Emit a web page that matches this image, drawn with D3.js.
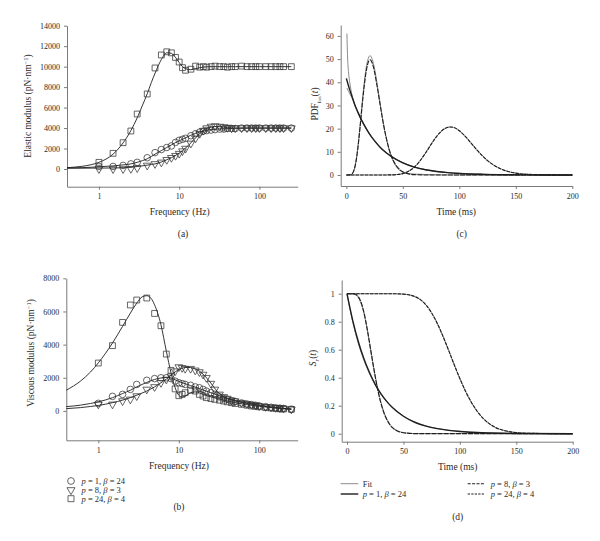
<!DOCTYPE html>
<html><head><meta charset="utf-8">
<script src="https://cdn.jsdelivr.net/npm/d3@7"></script>
<style>
body{margin:0;background:#fff;}
svg text{font-family:"Liberation Serif","DejaVu Serif",serif;fill:#2a2a2a;}
</style></head><body>
<svg id="c" width="600" height="541"></svg>
<script>
// ---------- Data: panels (a) and (b), measured points ----------
const freq = [1,1.5,2,2.5,3,4,5,6,7,8,9,10,11,12,14,16,18,20,22,25,28,32,36,40,45,50,60,70,80,90,100,120,140,160,180,200,250];
const elasticSq = [650,1530,2570,3710,5370,7330,9870,11140,11450,11350,10900,10450,9900,9650,9750,10050,9950,10000,9950,10000,10050,10000,10000,9950,10000,10000,10050,10000,10000,10000,10000,10000,10000,10000,10000,10000,10000];
const elasticCi = [250,250,350,500,650,1100,1600,1900,2100,2250,2600,2800,2900,3000,3250,3450,3600,3700,3750,3800,3850,3900,3900,3950,3950,3950,4000,4000,4000,4000,4000,4000,4000,4000,4000,4000,4000];
const elasticTr = [0,0,0,20,100,350,500,650,900,1100,1300,1500,1750,2000,2500,3000,3450,3750,4000,4150,4200,4150,4100,4050,4000,4000,4000,4000,4000,4000,4000,4000,4000,4000,4000,4000,4000];
const viscousSq = [2890,3940,5340,6390,6690,6810,5880,5140,3430,2450,1330,920,1000,1100,1250,1200,1000,900,800,750,700,650,600,550,500,450,400,350,300,280,250,200,180,150,130,120,100];
const viscousCi = [460,880,1000,1300,1600,1850,1950,2000,2000,1950,1800,1700,1650,1600,1550,1450,1400,1300,1200,1100,1000,850,750,700,620,560,480,420,380,340,300,260,220,190,170,150,100];
const viscousTr = [400,400,600,700,900,1300,1450,1700,1900,2100,2400,2650,2600,2550,2550,2450,2350,2200,2000,1650,1300,1000,850,750,650,600,500,430,380,340,300,250,220,190,170,150,100];

// ---------- Fit curves (a), (b) ----------
const fitFreq = [0.4,0.6,0.8,1,1.5,2,2.5,3,3.5,4,4.5,5,6,7,8,9,10,11,12,14,16,18,20,25,30,40,50,70,100,150,250];
const elasticFitSq = [130,250,420,650,1450,2550,3750,5000,6250,7350,8450,9350,10700,11350,11300,10900,10400,10000,9800,9700,9800,9900,9950,10000,10000,10000,10000,10000,10000,10000,10000];
const elasticFitCi = [100,130,170,220,300,400,500,650,820,1000,1220,1450,1800,2100,2350,2580,2750,2900,3050,3300,3480,3600,3700,3850,3900,3950,3980,4000,4000,4000,4000];
const elasticFitTr = [80,80,85,90,100,120,170,240,310,380,440,500,680,900,1100,1330,1550,1800,2050,2550,3050,3450,3750,4100,4150,4050,4000,4000,4000,4000,4000];
const viscousFitSq = [1250,1800,2350,2900,4100,5100,5900,6500,6880,6950,6800,6400,5200,3600,2300,1400,950,850,900,1100,1150,1100,1000,850,750,600,500,380,280,180,100];
const viscousFitCi = [260,350,450,550,800,1050,1250,1450,1600,1720,1820,1900,1990,2020,1980,1880,1780,1700,1640,1530,1440,1350,1270,1100,960,760,630,480,350,230,120];
const viscousFitTr = [140,200,270,330,500,650,800,950,1080,1200,1330,1450,1700,1920,2150,2350,2500,2580,2620,2620,2530,2400,2220,1680,1180,760,600,450,320,210,110];

// ---------- Panel (c): PDF curves ----------
const tExp = [0,1,2,3,5,7.5,10,12.5,15,20,25,30,35,40,50,60,70,80,90,100,120,140,160,200];
const pdfExp = [41.7,40,38.3,36.7,33.8,30.3,27.4,24.6,22.3,18.1,14.7,11.9,9.7,7.9,5.2,3.4,2.25,1.5,1.0,0.65,0.28,0.12,0.05,0];
const tFitExpA = [0.5,1,1.5,2,3,4,5,7.5,10,15,20,30,40,50,60,80,100,150,200];
const pdfFitExpA = [61,52,47,44,40,37,34.5,30,27,22,18,12,8,5.3,3.5,1.5,0.7,0.1,0];
const tFitExpB = [0.5,2,5,7.5,10,15,20,30,40,50,60,80,100,150,200];
const pdfFitExpB = [37.5,36,33.3,30.2,27.3,22.3,18.2,12,8,5.3,3.5,1.5,0.7,0.1,0];
const tG8 = [0,3,5,7,8,9,10,11,12,13,14,15,16,17,18,19,20,21,22,23,24,25,27,30,33,35,38,40,43,45,48,50,55,60,70,200];
const pdfG8 = [0,0.02,0.45,2.4,4.4,7.2,10.8,15.1,19.9,24.9,30.0,34.8,39.2,42.9,45.9,48.0,49.3,49.7,49.3,48.2,46.5,44.4,39.0,30.0,21.5,16.7,10.9,8.0,4.9,3.5,2.0,1.4,0.5,0.17,0.01,0];
const tFitG8 = [3,5,7,9,11,13,15,17,19,20,21,22,23,25,27,30,33,35,38,40,43,45,48,50,53,55,60,70,100,200];
const pdfFitG8 = [0,0.4,2.4,7.5,15.6,25.8,36,44.4,49.7,51,51.5,51,49.8,45.8,40,30.6,21.6,16.6,10.6,7.7,4.5,3.1,1.7,1.1,0.7,0.6,0.4,0.2,0,0];
const tG24 = [0,30,40,45,50,55,60,65,70,75,80,85,90,92,95,100,105,110,115,120,125,130,140,150,160,170,180,200];
const pdfG24 = [0,0,0.04,0.2,0.6,1.6,3.3,6.0,9.4,13.2,16.7,19.3,20.6,20.7,20.5,19.1,16.8,14.0,11.1,8.5,6.2,4.4,2.0,0.8,0.3,0.1,0.03,0];

// ---------- Panel (d): survival curves ----------
const tSExp = [0,5,10,15,20,25,30,35,40,50,60,70,80,90,100,120,150,200];
const sExp = [1,0.812,0.659,0.535,0.435,0.353,0.287,0.233,0.189,0.125,0.082,0.054,0.036,0.024,0.016,0.007,0.002,0];
const sFitExp = [1,0.80,0.645,0.525,0.428,0.348,0.284,0.232,0.19,0.126,0.083,0.055,0.037,0.025,0.017,0.008,0.002,0];
const tSG8 = [0,5,8,10,12,15,18,20,22,25,28,30,33,35,38,40,45,50,60,200];
const sG8 = [1,1,0.994,0.979,0.949,0.867,0.744,0.648,0.549,0.408,0.286,0.22,0.143,0.105,0.064,0.045,0.018,0.007,0.001,0];
const sFitG8 = [1,0.998,0.99,0.972,0.94,0.86,0.74,0.645,0.55,0.412,0.292,0.226,0.148,0.11,0.068,0.048,0.02,0.008,0.001,0];
const tSG24 = [0,40,50,60,65,70,75,80,85,90,95,100,105,110,115,120,130,140,150,160,200];
const sG24 = [1,1,0.997,0.98,0.958,0.92,0.863,0.788,0.697,0.597,0.493,0.394,0.304,0.227,0.164,0.115,0.051,0.021,0.008,0.003,0];

// ---------- Ticks ----------
const freqTicks = [1,10,100];
const elasticTicks = [0,2000,4000,6000,8000,10000,12000,14000];
const viscousTicks = [0,2000,4000,6000,8000];
const timeTicks = [0,50,100,150,200];
const pdfTicks = [0,10,20,30,40,50,60];
const survTicks = [0,0.2,0.4,0.6,0.8,1];

const svg = d3.select("#c");
const AX = "#7a7a7a", INK = "#2a2a2a", CURVE = "#1e1e1e";

const xa = d3.scaleLog().domain([0.4,300]).range([67,297.7]);
const ya = d3.scaleLinear().domain([-1730,14000]).range([186.7,25.7]);
const xb = d3.scaleLog().domain([0.4,300]).range([66.3,297.7]);
const yb = d3.scaleLinear().domain([-1770,8000]).range([440.3,278.3]);
const xc = d3.scaleLinear().domain([-5,200]).range([340.7,572.3]);
const yc = d3.scaleLinear().domain([-4.75,64.7]).range([186,25]);
const xd = d3.scaleLinear().domain([-4.7,200]).range([341.7,572.7]);
const yd = d3.scaleLinear().domain([-0.057,1.098]).range([441.7,280]);

function axes(x, y, xt, yt, xf, yf) {
  const xl = x.range()[0], yB = y.range()[0];
  const gx = svg.append("g").attr("transform",`translate(0,${yB})`)
    .call(d3.axisBottom(x).tickValues(xt).tickFormat(xf).tickSize(3).tickSizeOuter(0).tickPadding(4));
  const gy = svg.append("g").attr("transform",`translate(${xl},0)`)
    .call(d3.axisLeft(y).tickValues(yt).tickFormat(yf).tickSize(3).tickSizeOuter(0).tickPadding(4));
  [gx,gy].forEach(g=>{
    g.attr("font-family",'"Liberation Serif","DejaVu Serif",serif');
    g.select(".domain").attr("stroke",AX).attr("stroke-width",1);
    g.selectAll(".tick line").attr("stroke",AX);
    g.selectAll(".tick text").attr("font-size",8).attr("fill",INK);
  });
}
const fmtInt = d3.format("d");
axes(xa, ya, freqTicks, elasticTicks, fmtInt, fmtInt);
axes(xb, yb, freqTicks, viscousTicks, fmtInt, fmtInt);
axes(xc, yc, timeTicks, pdfTicks, fmtInt, fmtInt);
axes(xd, yd, timeTicks, survTicks, fmtInt, d => (d===0||d===1) ? String(d) : d.toFixed(1));

function line(x, y, xs, ys, style) {
  const pts = xs.map((v,i)=>[v, ys[i]]);
  svg.append("path").datum(pts)
    .attr("d", d3.line().x(d=>x(d[0])).y(d=>y(d[1])).curve(d3.curveMonotoneX))
    .attr("fill","none")
    .attr("stroke", style.c || CURVE)
    .attr("stroke-width", style.w || 1)
    .attr("stroke-dasharray", style.dash || null);
}
function markers(x, y, xs, ys, type) {
  const sym = {
    circle: d3.symbol().type(d3.symbolCircle).size(34),
    square: d3.symbol().type(d3.symbolSquare).size(34),
    triangle: d3.symbol().type(d3.symbolTriangle).size(26)
  }[type];
  svg.append("g").selectAll("path").data(xs.map((v,i)=>[v,ys[i]])).join("path")
    .attr("d", sym)
    .attr("transform", d=>`translate(${x(d[0])},${y(d[1])})${type==="triangle"?" rotate(180)":""}`)
    .attr("fill","none").attr("stroke","#333").attr("stroke-width",0.75);
}

// Panel (a)
line(xa, ya, fitFreq, elasticFitSq, {w:0.9});
line(xa, ya, fitFreq, elasticFitCi, {w:0.9});
line(xa, ya, fitFreq, elasticFitTr, {w:0.9});
markers(xa, ya, freq, elasticSq, "square");
markers(xa, ya, freq, elasticCi, "circle");
markers(xa, ya, freq, elasticTr, "triangle");

// Panel (b)
line(xb, yb, fitFreq, viscousFitSq, {w:0.9});
line(xb, yb, fitFreq, viscousFitCi, {w:0.9});
line(xb, yb, fitFreq, viscousFitTr, {w:0.9});
markers(xb, yb, freq, viscousSq, "square");
markers(xb, yb, freq, viscousCi, "circle");
markers(xb, yb, freq, viscousTr, "triangle");

// Panel (c)
const FIT = {c:"#8c8c8c", w:1};
const S1 = {w:1.4, c:CURVE};
const S8 = {w:1.15, dash:"5,1.1", c:CURVE};
const S24 = {w:1.15, dash:"3.5,1.1", c:CURVE};
line(xc, yc, tFitExpA, pdfFitExpA, FIT);
line(xc, yc, tFitExpB, pdfFitExpB, FIT);
line(xc, yc, tFitG8, pdfFitG8, FIT);
line(xc, yc, tG24, pdfG24, FIT);
line(xc, yc, tExp, pdfExp, S1);
line(xc, yc, tG8, pdfG8, S8);
line(xc, yc, tG24, pdfG24, S24);

// Panel (d)
line(xd, yd, tSExp, sFitExp, FIT);
line(xd, yd, tSG8, sFitG8, FIT);
line(xd, yd, tSG24, sG24, FIT);
line(xd, yd, tSExp, sExp, S1);
line(xd, yd, tSG8, sG8, S8);
line(xd, yd, tSG24, sG24, S24);

// ---------- Text ----------
function txt(x, y, s, size, anchor) {
  return svg.append("text").attr("x",x).attr("y",y).attr("font-size",size)
    .attr("text-anchor",anchor||"middle").text(s);
}
txt(179.7, 215, "Frequency (Hz)", 9.5);
txt(179, 469, "Frequency (Hz)", 9.5);
txt(456.3, 215, "Time (ms)", 9.5);
txt(457.7, 469.5, "Time (ms)", 9.5);
txt(183, 236.5, "(a)", 9.5);
txt(179, 510, "(b)", 9.5);
txt(461.7, 236.5, "(c)", 9.5);
txt(457.7, 520, "(d)", 9.5);

function ylab(x, y, parts, size) {
  const t = svg.append("text").attr("transform",`translate(${x},${y}) rotate(-90)`)
    .attr("text-anchor","middle").attr("font-size",size);
  parts.forEach(p=>{
    const s = t.append("tspan").text(p.t);
    if (p.i) s.attr("font-style","italic");
    if (p.dy) s.attr("dy",p.dy);
    if (p.fs) s.attr("font-size",p.fs);
  });
}
ylab(31, 106, [{t:"Elastic modulus (pN·nm"},{t:"−1",dy:-3.5,fs:6.5},{t:")",dy:3.5}], 9.5);
ylab(34, 353, [{t:"Viscous modulus (pN·nm"},{t:"−1",dy:-3.5,fs:6.5},{t:")",dy:3.5}], 9.5);
ylab(318, 104, [{t:"PDF"},{t:"t",i:true,dy:2.5,fs:6.5},{t:"on",dy:0.8,fs:5},{t:"(",dy:-3.3},{t:"t",i:true},{t:")"}], 9.5);
ylab(316, 358, [{t:"S",i:true},{t:"r",i:true,dy:2.5,fs:6.5},{t:"(",dy:-2.5},{t:"t",i:true},{t:")"}], 9.5);

// Legend (b)
function legText(x, y, pv, bv) {
  const t = svg.append("text").attr("x",x).attr("y",y).attr("font-size",8.5);
  t.append("tspan").attr("font-style","italic").text("p");
  t.append("tspan").text(` = ${pv}, `);
  t.append("tspan").attr("font-style","italic").text("β");
  t.append("tspan").text(` = ${bv}`);
}
const legSyms = [["circle",481,1,24],["triangle",490,8,3],["square",498.7,24,4]];
legSyms.forEach(([type,y,p,b])=>{
  const s = {circle:d3.symbolCircle, square:d3.symbolSquare, triangle:d3.symbolTriangle}[type];
  svg.append("path").attr("d", d3.symbol().type(s).size(type==="triangle"?28:36)())
    .attr("transform",`translate(71,${y})${type==="triangle"?" rotate(180)":""}`)
    .attr("fill","none").attr("stroke","#333").attr("stroke-width",0.75);
  legText(81.5, y+3, p, b);
});

// Legend (d)
function legLine(x1, x2, y, style) {
  svg.append("line").attr("x1",x1).attr("x2",x2).attr("y1",y).attr("y2",y)
    .attr("stroke",style.c||INK).attr("stroke-width",style.w||1).attr("stroke-dasharray",style.dash||null);
}
legLine(340.7, 358.3, 483.7, FIT);
txt(362.7, 486.7, "Fit", 8.5, "start");
legLine(340.7, 358.3, 494, S1);
legText(362.7, 497, 1, 24);
legLine(467.7, 485, 483.7, {w:1.1, dash:"3,1.4", c:CURVE});
legText(490.7, 486.7, 8, 3);
legLine(467.7, 485, 494, {w:1.1, dash:"2.3,1.2", c:CURVE});
legText(490.7, 497, 24, 4);
</script>
</body></html>
